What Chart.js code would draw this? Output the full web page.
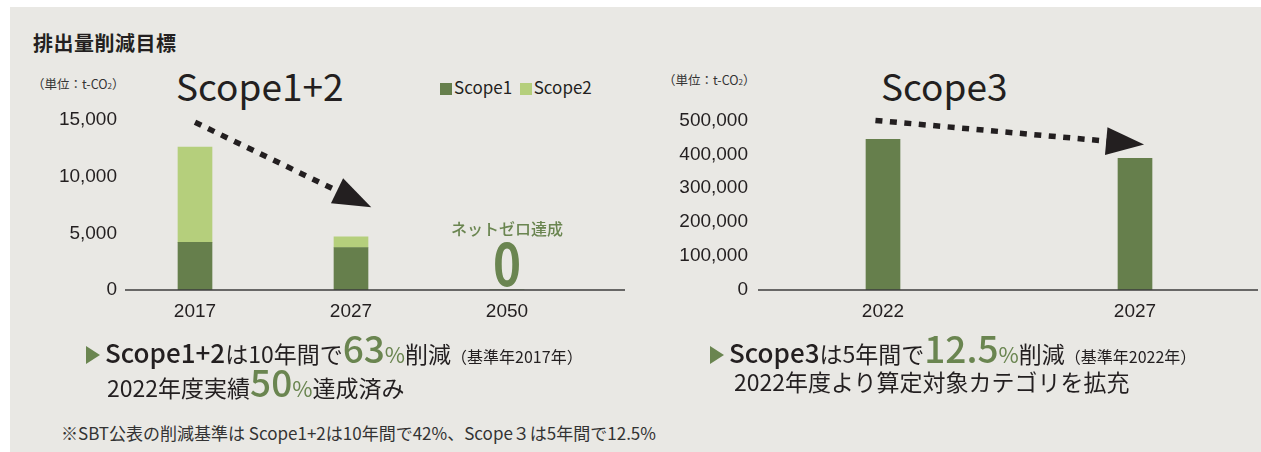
<!DOCTYPE html>
<html lang="ja">
<head>
<meta charset="utf-8">
<script src="https://cdn.jsdelivr.net/npm/chart.js@4.4.1/dist/chart.umd.min.js"></script>
<style>
  html, body { margin: 0; padding: 0; background: #fff; }
  body { width: 1261px; height: 452px; position: relative; overflow: hidden;
         font-family: "Noto Sans CJK JP", sans-serif; color: #231f20; }
  #panel { position: absolute; left: 10px; top: 7px; right: 0; bottom: 0; background: #e9e8e4; }
  .abs { position: absolute; white-space: nowrap; }
  canvas { position: absolute; }
  .title { left: 33px; top: 31px; font-size: 20px; font-weight: 700; letter-spacing: 0.5px; line-height: 24px; }
  .unit { font-size: 12.5px; line-height: 14px; color: #333; }
  .unit sub { font-size: 8px; vertical-align: baseline; }
  .head { font-size: 37px; line-height: 37px; font-weight: 400; }
  .legend { left: 440px; top: 77px; font-size: 17px; line-height: 20px; }
  .legend i { display: inline-block; width: 12px; height: 12px; margin-right: 2px; vertical-align: -1px; }
  .note { font-size: 23px; line-height: 40px; }
  .note .tri { display: inline-block; width: 0; height: 0; border-left: 14px solid #6a8550;
               border-top: 9px solid transparent; border-bottom: 9px solid transparent; margin-right: 5px; vertical-align: -1px; }
  .note .sc { font-size: 26px; font-weight: 500; }
  .note .big { font-size: 37px; color: #6a8550; font-weight: 500; }
  .note .pct { font-size: 22px; color: #6a8550; }
  .note .small { font-size: 16px; }
  .foot { left: 61px; top: 422px; font-size: 17px; line-height: 22px; color: #333; }
</style>
</head>
<body>
<div id="panel"></div>

<div class="abs title">排出量削減目標</div>
<div class="abs unit" style="left:32px; top:77px;">（単位：t-CO<sub>2</sub>）</div>
<div class="abs unit" style="left:663px; top:73px;">（単位：t-CO<sub>2</sub>）</div>
<div class="abs head" style="left:176px; top:67px;">Scope1+2</div>
<div class="abs head" style="left:881px; top:67px;">Scope3</div>
<div class="abs legend" id="legend12"></div>

<canvas id="chart12" width="640" height="240" style="left:0; top:100px;"></canvas>
<canvas id="chart3" width="621" height="240" style="left:640px; top:100px;"></canvas>

<div class="abs note" style="left:86px; top:327px;"><span class="tri"></span><span class="sc">Scope1+2</span>は10年間で<span class="big">63</span><span class="pct">%</span>削減<span class="small">（基準年2017年）</span></div>
<div class="abs note" style="left:107px; top:361px;">2022年度実績<span class="big">50</span><span class="pct">%</span>達成済み</div>
<div class="abs note" style="left:710px; top:327px;"><span class="tri"></span><span class="sc">Scope3</span>は5年間で<span class="big">12.5</span><span class="pct">%</span>削減<span class="small">（基準年2022年）</span></div>
<div class="abs note" style="left:734px; top:361px;">2022年度より算定対象カテゴリを拡充</div>
<div class="abs foot">※SBT公表の削減基準は Scope1+2は10年間で42%、Scope３は5年間で12.5%</div>

<script>
// Scope1+2 emissions (t-CO2)
const years12 = ['2017', '2027', '2050'];
const scope1 = [4200, 3750, 0];
const scope2 = [8400, 950, 0];
const ticks12 = [0, 5000, 10000, 15000];

// Scope3 emissions (t-CO2)
const years3 = ['2022', '2027'];
const scope3 = [444000, 388000];
const ticks3 = [0, 100000, 200000, 300000, 400000, 500000];

const darkGreen = '#667f4c';
const lightGreen = '#b5cf7c';
const textGreen = '#6a8550';
const inkColor = '#231f20';
const tickFont = { family: '"Liberation Sans", Arial, sans-serif', size: 19 };

// html legend for the stacked chart
document.getElementById('legend12').innerHTML =
    `<i style="background:${darkGreen}"></i>Scope1 &nbsp;<i style="background:${lightGreen}"></i>Scope2`;

// baseline drawn a bit wider than the category area
const baselinePlugin = {
    id: 'baseline',
    afterDatasetsDraw(chart, args, opts) {
        const ctx = chart.ctx;
        const y = chart.scales.y.getPixelForValue(0);
        ctx.save();
        ctx.strokeStyle = '#3c3c3c';
        ctx.lineWidth = 1.5;
        ctx.beginPath();
        ctx.moveTo(opts.from, y);
        ctx.lineTo(opts.to, y);
        ctx.stroke();
        ctx.restore();
    }
};

// dotted trend arrow, end points given in data units
const arrowPlugin = {
    id: 'trendArrow',
    afterDatasetsDraw(chart, args, opts) {
        const xs = chart.scales.x, ys = chart.scales.y;
        const x0 = xs.getPixelForValue(opts.from[0]), y0 = ys.getPixelForValue(opts.from[1]);
        const x1 = xs.getPixelForValue(opts.to[0]), y1 = ys.getPixelForValue(opts.to[1]);
        const ang = Math.atan2(y1 - y0, x1 - x0);
        const headLen = 38, headHalf = 14;
        const bx = x1 - Math.cos(ang) * headLen, by = y1 - Math.sin(ang) * headLen;
        const ctx = chart.ctx;
        ctx.save();
        ctx.strokeStyle = inkColor;
        ctx.fillStyle = inkColor;
        ctx.lineWidth = 5.5;
        ctx.setLineDash([7, 7.5]);
        ctx.beginPath();
        ctx.moveTo(x0, y0);
        ctx.lineTo(bx + Math.cos(ang) * 4, by + Math.sin(ang) * 4);
        ctx.stroke();
        ctx.setLineDash([]);
        ctx.beginPath();
        ctx.moveTo(x1, y1);
        ctx.lineTo(bx - Math.sin(ang) * headHalf, by + Math.cos(ang) * headHalf);
        ctx.lineTo(bx + Math.sin(ang) * headHalf, by - Math.cos(ang) * headHalf);
        ctx.closePath();
        ctx.fill();
        ctx.restore();
    }
};

// net-zero label over the last category, showing its stacked total
const netZeroPlugin = {
    id: 'netZero',
    afterDatasetsDraw(chart) {
        const i = years12.indexOf('2050');
        const total = scope1[i] + scope2[i];
        const x = chart.scales.x.getPixelForValue(i);
        const y = chart.scales.y.getPixelForValue(total);
        const ctx = chart.ctx;
        ctx.save();
        ctx.fillStyle = textGreen;
        ctx.textAlign = 'center';
        ctx.textBaseline = 'alphabetic';
        ctx.font = '500 16px "Noto Sans CJK JP", sans-serif';
        ctx.fillText('ネットゼロ達成', x, y - 55);
        ctx.translate(x, y - 4);
        ctx.scale(0.82, 1);
        ctx.font = '700 58px "Noto Sans CJK JP", sans-serif';
        ctx.fillText(String(total), 0, 0);
        ctx.restore();
    }
};

function axisOptions(yMax, yTicks, yWidth, yPad) {
    return {
        x: {
            stacked: true,
            grid: { display: false, drawTicks: false },
            border: { display: false },
            ticks: { color: inkColor, font: tickFont, padding: 10 },
            afterFit: s => { s.height = 50; }
        },
        y: {
            stacked: true,
            min: 0,
            max: yMax,
            afterBuildTicks: s => { s.ticks = yTicks.map(v => ({ value: v })); },
            grid: { display: false, drawTicks: false },
            border: { display: false },
            ticks: { color: inkColor, font: tickFont, padding: yPad,
                     callback: v => v.toLocaleString('en-US') },
            afterFit: s => { s.width = yWidth; }
        }
    };
}

new Chart(document.getElementById('chart12'), {
    type: 'bar',
    data: {
        labels: years12,
        datasets: [
            { label: 'Scope1', data: scope1, backgroundColor: darkGreen, barThickness: 34 },
            { label: 'Scope2', data: scope2, backgroundColor: lightGreen, barThickness: 34 }
        ]
    },
    options: {
        responsive: false,
        animation: false,
        layout: { padding: { left: 0, right: 55, top: 20, bottom: 0 } },
        plugins: {
            legend: { display: false },
            tooltip: { enabled: false },
            baseline: { from: 125, to: 625 },
            trendArrow: { from: [0, 14800], to: [1.13, 7300] }
        },
        scales: axisOptions(15000, ticks12, 117, 0)
    },
    plugins: [baselinePlugin, arrowPlugin, netZeroPlugin]
});

new Chart(document.getElementById('chart3'), {
    type: 'bar',
    data: {
        labels: years3,
        datasets: [
            { label: 'Scope3', data: scope3, backgroundColor: darkGreen, barThickness: 34 }
        ]
    },
    options: {
        responsive: false,
        animation: false,
        layout: { padding: { left: 0, right: 0, top: 19, bottom: 0 } },
        plugins: {
            legend: { display: false },
            tooltip: { enabled: false },
            baseline: { from: 118, to: 618 },
            trendArrow: { from: [-0.03, 500000], to: [1.036, 429000] }
        },
        scales: axisOptions(500000, ticks3, 117, 9)
    },
    plugins: [baselinePlugin, arrowPlugin]
});
</script>
</body>
</html>
